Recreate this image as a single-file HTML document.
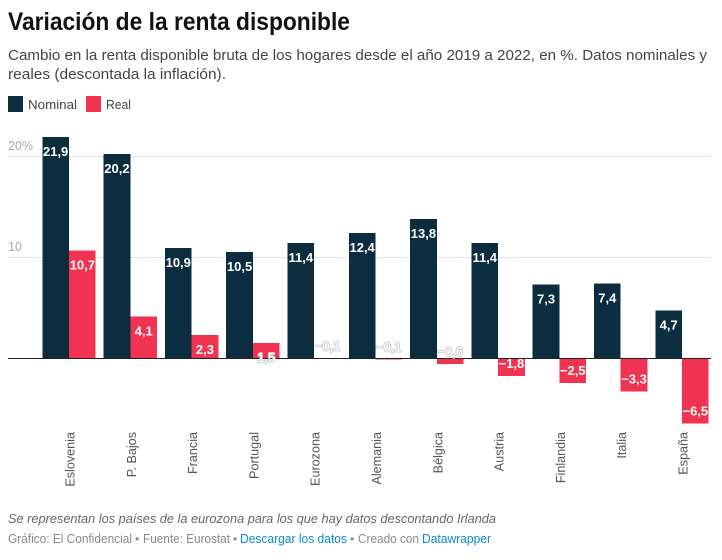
<!DOCTYPE html>
<html lang="es">
<head>
<meta charset="utf-8">
<title>Variación de la renta disponible</title>
<style>
html,body{margin:0;padding:0;background:#fff;width:722px;height:560px;overflow:hidden}
svg{display:block}
text{font-family:"Liberation Sans",sans-serif}
</style>
</head>
<body>
<svg id="chart" width="722" height="560" viewBox="0 0 722 560" xmlns="http://www.w3.org/2000/svg">
  <text x="8" y="30" font-size="25" font-weight="700" fill="#111" textLength="342" lengthAdjust="spacingAndGlyphs">Variación de la renta disponible</text>
  <text x="8" y="60" font-size="15" fill="#444" textLength="699" lengthAdjust="spacingAndGlyphs">Cambio en la renta disponible bruta de los hogares desde el año 2019 a 2022, en %. Datos nominales y</text>
  <text x="8" y="79" font-size="15" fill="#444" textLength="218" lengthAdjust="spacingAndGlyphs">reales (descontada la inflación).</text>

  <rect x="8" y="96" width="15" height="16" fill="#0c2c40"/>
  <text x="28" y="109" font-size="13" fill="#444" textLength="49" lengthAdjust="spacingAndGlyphs">Nominal</text>
  <rect x="86" y="96" width="15" height="16" fill="#f03350"/>
  <text x="106" y="109" font-size="13" fill="#444" textLength="25" lengthAdjust="spacingAndGlyphs">Real</text>

  <g id="grid"></g>
  <g id="bars"></g>
  <g id="cats"></g>
  <g id="vals"></g>

  <text x="8" y="523" font-size="12.5" font-style="italic" fill="#666" textLength="488" lengthAdjust="spacingAndGlyphs">Se representan los países de la eurozona para los que hay datos descontando Irlanda</text>
  <text x="8" y="543" font-size="12.5" fill="#888" textLength="124" lengthAdjust="spacingAndGlyphs">Gráfico: El Confidencial</text>
  <text x="135" y="543" font-size="12" fill="#888">•</text>
  <text x="143" y="543" font-size="12.5" fill="#888" textLength="87" lengthAdjust="spacingAndGlyphs">Fuente: Eurostat</text>
  <text x="233" y="543" font-size="12" fill="#888">•</text>
  <text x="240" y="543" font-size="12.5" fill="#0a8ad6" textLength="107" lengthAdjust="spacingAndGlyphs">Descargar los datos</text>
  <text x="350" y="543" font-size="12" fill="#888">•</text>
  <text x="358" y="543" font-size="12.5" fill="#888" textLength="61" lengthAdjust="spacingAndGlyphs">Creado con</text>
  <text x="422" y="543" font-size="12.5" fill="#0a8ad6" textLength="69" lengthAdjust="spacingAndGlyphs">Datawrapper</text>
</svg>
<script>
const categories = ["Eslovenia","P. Bajos","Francia","Portugal","Eurozona","Alemania","Bélgica","Austria","Finlandia","Italia","España"];
const nominalValues = [21.9,20.2,10.9,10.5,11.4,12.4,13.8,11.4,7.3,7.4,4.7];
const realValues = [10.65,4.1,2.3,1.5,-0.06,-0.14,-0.6,-1.8,-2.5,-3.3,-6.5];
const yTicks = [0,10,20];
const yTickLabels = ["","10","20%"];

const NS = "http://www.w3.org/2000/svg";
const NAVY = "#0c2c40", RED = "#f03350";
const yScale = v => 358 - v * 10.09;
const xBand = i => 42.3 + i * 61.3;
const barWidth = 26.7;
const make = (tag, parent, props) => {
  const el = document.createElementNS(NS, tag);
  for (const k in props) el.setAttribute(k, props[k]);
  parent.appendChild(el);
  return el;
};
const fmt = v => (v < 0 ? "\u2212" : "") + Math.abs(v).toFixed(1).replace(".", ",");

const grid = document.getElementById("grid");
const bars = document.getElementById("bars");
const cats = document.getElementById("cats");
const vals = document.getElementById("vals");

yTicks.forEach((t, i) => {
  if (t === 0) return;
  const line = make("rect", grid, {x: 8, y: Math.round(yScale(t)), width: 703, height: 1, fill: "#e6e6e6"});
  
  
  const label = make("text", grid, {x: 8, y: yScale(t) - 6, "font-size": 12.5, fill: "#aaa"});
  
  
  label.textContent = yTickLabels[i];
});

function drawBar(v, x, color) {
  const y = Math.min(yScale(v), yScale(0));
  const h = Math.abs(yScale(v) - yScale(0));
  const r = make("rect", bars, {x: x, y: y, width: barWidth, height: h, fill: color, "shape-rendering": "crispEdges"});
  
  
}

function drawValue(v, x) {
  const outside = Math.abs(v) < 1.6;
  const cy = v >= 0 ? yScale(v) + 14.5 : yScale(v) - 12.5;
  const t = make("text", vals, {
    x: x + barWidth / 2, y: cy + 4.5, "text-anchor": "middle",
    "font-size": 13, "font-weight": outside ? 400 : 700, fill: "#fff"
  });
  if (outside) {
    t.setAttribute("stroke", "#d2d2d2");
    t.setAttribute("stroke-width", "2");
    t.setAttribute("paint-order", "stroke");
    t.setAttribute("stroke-linejoin", "round");
  }
  
  
  t.textContent = fmt(v);
}

categories.forEach((c, i) => {
  const x0 = xBand(i);
  drawBar(nominalValues[i], x0, NAVY);
  drawBar(realValues[i], x0 + barWidth, RED);
  drawValue(nominalValues[i], x0);
  drawValue(realValues[i], x0 + barWidth);
  const cx = x0 + barWidth + 5.5;
  const lab = make("text", cats, {
    transform: "translate(" + cx + ",432) rotate(-90) scale(0.97,1)",
    "text-anchor": "end", "font-size": 13, fill: "#555"
  });
  
  
  lab.textContent = c;
});

const axis = make("rect", bars, {x: 8, y: yScale(0), width: 703, height: 1, fill: "#222"});


</script>
</body>
</html>
